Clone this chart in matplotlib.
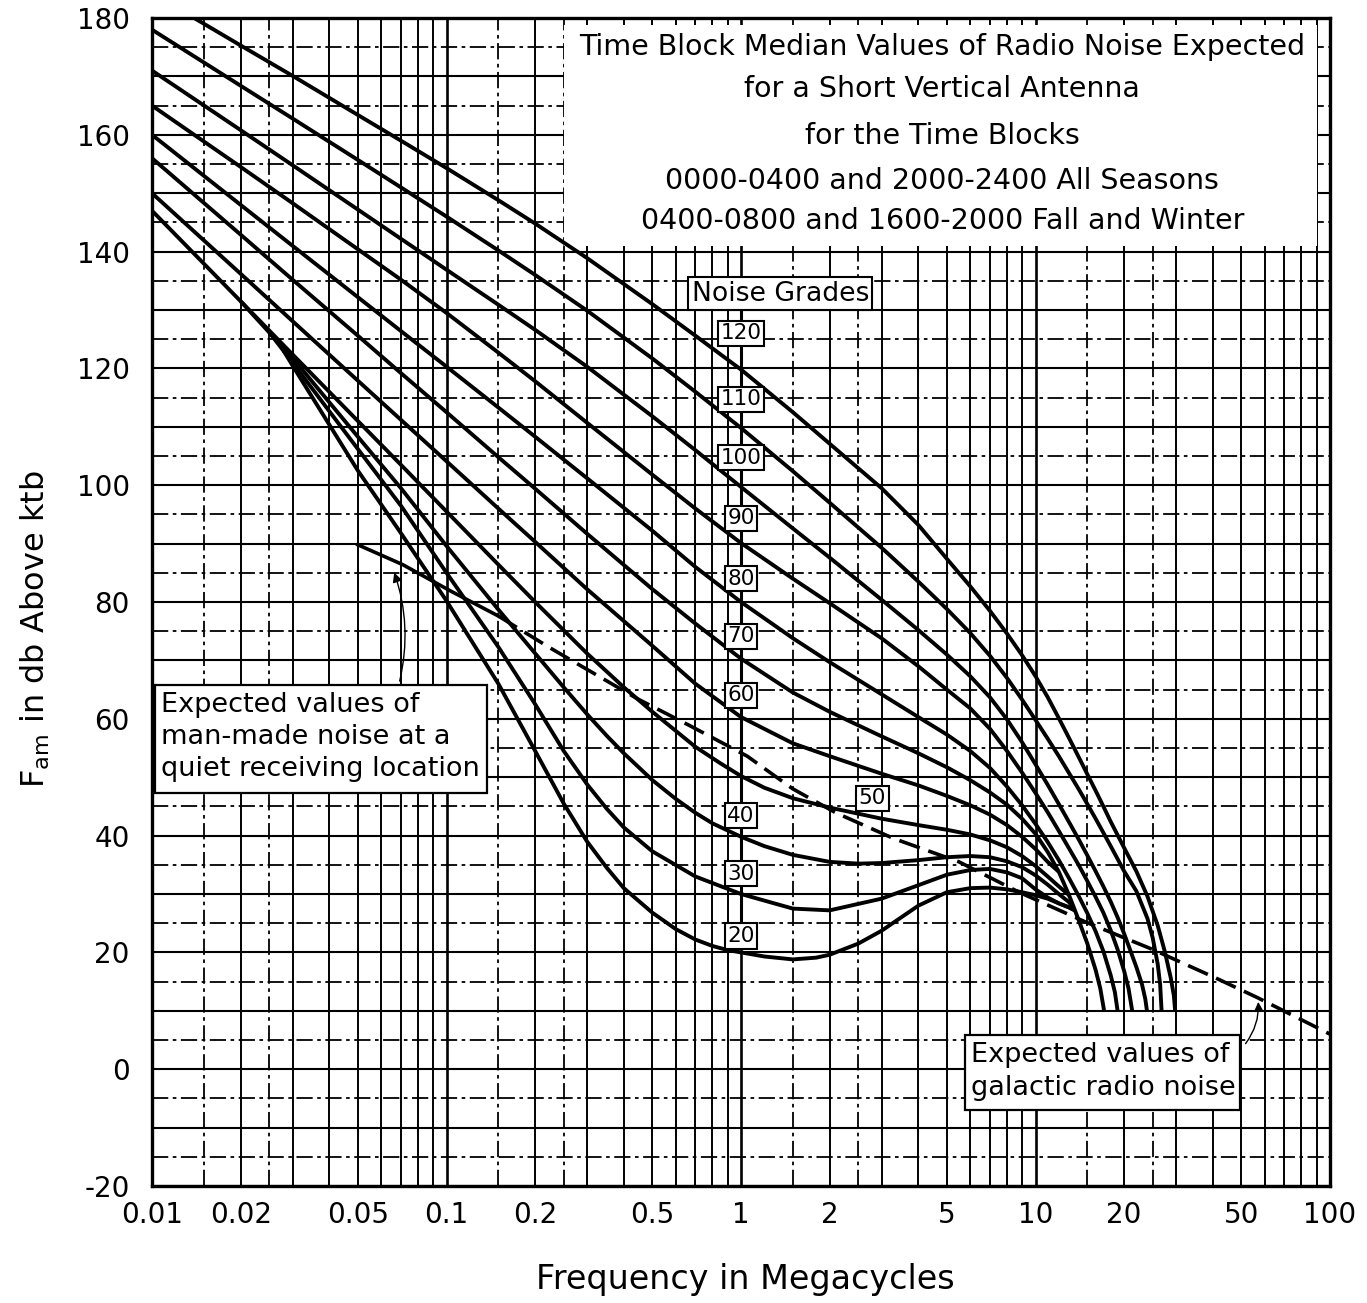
import matplotlib
matplotlib.use("Agg")
import matplotlib.pyplot as plt
from matplotlib.patches import Rectangle
from matplotlib.ticker import NullLocator

plt.rcParams['axes.unicode_minus'] = False

# noise grade curves: frequency (MHz) and Fam (dB)
g120_f = [0.0139, 0.02, 0.03, 0.05, 0.07, 0.1, 0.15, 0.2, 0.3, 0.5, 0.7, 1, 1.5, 2, 3, 4, 5, 6, 7, 8, 9, 10,
          11, 12, 13, 14, 15, 16, 17, 18, 20, 22, 24, 26, 27.5, 28.8, 29.5, 29.8]
g120_db = [180, 175.3, 170.1, 163.4, 159, 154.3, 148.8, 144.8, 138.9, 131, 125.6, 119.8, 112.5, 107.1, 99.5, 93.2,
           87.4, 82.7, 78.5, 74.6, 70.9, 67.3, 63.7, 60.1, 56.7, 53.5, 50.5, 47.7, 45.0, 42.4, 37.9, 33.9, 29.6,
           24.6, 20.1, 15.6, 12.6, 10]

g110_f = [0.01, 0.02, 0.03, 0.05, 0.07, 0.1, 0.15, 0.2, 0.3, 0.5, 0.7, 1, 1.5, 2, 3, 4, 5, 6, 7, 8, 9, 10,
          11, 12, 13, 14, 15, 16, 17, 18, 19, 20, 22, 24, 25, 26, 26.5, 26.8]
g110_db = [178, 168.4, 162.8, 155.7, 151, 146, 140.2, 136, 129.9, 121.7, 116, 109.8, 102.4, 97, 89.3, 83.5,
           78.8, 74.7, 70.8, 67, 63.3, 59.8, 56.6, 53.6, 50.7, 48, 45.4, 42.9, 40.5, 38.2, 36, 33.9, 30.5,
           25.8, 22.5, 18, 14.5, 10]

g100_f = [0.01, 0.02, 0.03, 0.05, 0.07, 0.1, 0.15, 0.2, 0.3, 0.5, 0.7, 1, 1.5, 2, 3, 4, 5, 6, 7, 8, 9, 10,
          11, 12, 13, 14, 15, 16, 17, 18, 19, 20, 21, 22, 23, 23.6, 23.9]
g100_db = [171, 160.8, 154.8, 147.2, 142.2, 136.9, 130.9, 126.6, 120.3, 111.8, 106, 99.7, 92.6, 87.6, 80.4,
           75.2, 71, 67.3, 63.7, 59.9, 56, 52.2, 48.7, 45.4, 42.3, 39.4, 36.6, 33.9, 31.3, 28.7, 26, 23.2,
           20.3, 17.5, 14.5, 12, 10]

g90_f = [0.01, 0.02, 0.03, 0.05, 0.07, 0.1, 0.15, 0.2, 0.3, 0.5, 0.7, 1, 1.5, 2, 3, 4, 5, 6, 7, 8, 9, 10,
         11, 12, 13, 14, 15, 16, 17, 18, 19, 20, 20.7, 21.3]
g90_db = [165, 154.5, 148.3, 140.4, 135.2, 129.5, 122.7, 117.8, 110.7, 101.8, 96, 90.1, 84, 79.8, 73.8, 69,
          65, 61.8, 58.3, 54.5, 50.8, 47.3, 44, 40.8, 37.8, 35, 32.2, 29.5, 26.8, 23.8, 20.5, 16.8, 13.8, 10]

g80_f = [0.01, 0.02, 0.03, 0.05, 0.07, 0.1, 0.15, 0.2, 0.3, 0.5, 0.7, 1, 1.5, 2, 3, 4, 5, 6, 7, 8, 9, 10,
         11, 12, 13, 14, 15, 16, 17, 18, 18.6, 19.0]
g80_db = [160, 148, 141, 132.2, 126.4, 120.3, 113.3, 108.3, 101.2, 92.2, 86, 80, 73.8, 69.7, 64.2, 60.3,
          57.3, 54.5, 51.6, 48.4, 45.2, 42, 38.9, 35.8, 32.7, 29.7, 26.7, 23.6, 20.2, 16.1, 13.2, 10]

g70_f = [0.01, 0.02, 0.03, 0.05, 0.07, 0.1, 0.15, 0.2, 0.3, 0.5, 0.7, 1, 1.5, 2, 3, 4, 5, 6, 7, 8, 9, 10,
         11, 12, 13, 14, 15, 16, 16.6, 17.1]
g70_db = [156, 142.9, 135.2, 125.6, 119.2, 112.5, 104.8, 99.4, 91.7, 82.2, 76.3, 70.3, 64.5, 61.2, 57, 54.1,
          51.7, 49.5, 47.4, 45.3, 42.9, 40.3, 37.2, 33.8, 29.8, 25.6, 21.5, 17, 13.8, 10]

g60_f = [0.01, 0.02, 0.03, 0.05, 0.07, 0.1, 0.15, 0.2, 0.3, 0.5, 0.7, 1, 1.5, 2, 3, 4, 5, 6, 7, 8, 9, 10,
         11, 12]
g60_db = [150, 136.2, 128.1, 117.9, 111.2, 104.1, 96, 90.3, 82.2, 72.5, 66, 60.3, 55.8, 53.6, 50.6, 48.6,
          46.8, 45.2, 43.6, 41.8, 39.8, 37.7, 35.5, 33.8]

g50_f = [0.01, 0.02, 0.03, 0.05, 0.07, 0.1, 0.15, 0.2, 0.3, 0.4, 0.5, 0.7, 0.85, 1, 1.2, 1.5, 2, 3, 4, 5,
         6, 7, 8, 9, 10, 11, 12, 13]
g50_db = [147, 131.5, 122.4, 111, 103.5, 95.5, 86.4, 80, 71.2, 65.4, 61.2, 55.2, 52.4, 50.2, 48.2, 46.4,
          44.8, 42.9, 41.8, 41, 40.2, 39.2, 38, 36.5, 34.8, 33, 31.3, 29.8]

g40_f = [0.02, 0.03, 0.05, 0.07, 0.1, 0.15, 0.2, 0.25, 0.3, 0.35, 0.4, 0.5, 0.6, 0.7, 0.8, 1, 1.2, 1.5, 2,
         2.5, 3, 4, 5, 6, 7, 8, 9, 10, 11, 12, 13, 13.6]
g40_db = [131.5, 121.8, 108.3, 99.5, 89.6, 78.7, 71.2, 65.4, 60.8, 57.1, 54.1, 49.5, 46.3, 43.9, 42.1, 39.8,
          38.2, 36.7, 35.5, 35.2, 35.3, 35.8, 36.3, 36.5, 36.3, 35.6, 34.6, 33.2, 31.6, 30, 28.6, 27.2]

g30_f = [0.025, 0.03, 0.05, 0.07, 0.1, 0.15, 0.2, 0.25, 0.3, 0.35, 0.4, 0.5, 0.7, 1, 1.5, 2, 2.5, 3, 4, 5,
         6, 7, 8, 9, 10, 11, 12, 13, 13.6]
g30_db = [126.2, 121, 106.2, 96.5, 85, 72.3, 62.5, 54.5, 48.8, 44.6, 41.4, 37.3, 33, 30, 27.5, 27.2, 28.3,
          29.2, 31.5, 33.3, 34.1, 34.3, 33.7, 32.7, 30.8, 29.4, 28.4, 27.7, 27.2]

g20_f = [0.028, 0.03, 0.05, 0.07, 0.1, 0.15, 0.2, 0.25, 0.3, 0.35, 0.4, 0.5, 0.6, 0.7, 0.8, 0.9, 1, 1.2,
         1.5, 1.8, 2, 2.5, 3, 3.5, 4, 5, 6, 7, 8, 9, 10, 11, 12, 13, 13.6]
g20_db = [123, 120.5, 102.5, 91.8, 80.2, 66, 54.5, 45.5, 39, 34.5, 31, 26.8, 24, 22.2, 21.1, 20.4, 20, 19.3,
          18.8, 19.1, 19.6, 21.5, 23.7, 26, 28, 30.3, 31, 31.1, 30.8, 30.3, 29.8, 29.2, 28.4, 27.7, 27.2]

# man-made noise (quiet location) and galactic noise
manmade_f = [0.05, 0.071, 0.104, 0.15, 0.222, 0.446, 0.66, 1.05, 1.5, 2.1, 3.3, 5.5, 8.8]
manmade_db = [89.8, 86.4, 81.8, 77.6, 72.3, 63.4, 59, 53.6, 48, 43.9, 39.5, 35.5, 30.3]
galactic_f = [8.8, 14.8, 25, 41, 57, 100]
galactic_db = [30.3, 25.2, 20.5, 15.6, 12.2, 6]

# grade labels on the 1 Mc scale
grades = [120, 110, 100, 90, 80, 70, 60, 40, 30, 20]
grade_label_db = [126, 114.7, 104.7, 94.3, 84, 74.1, 64, 43.4, 33.5, 22.8]

xtick_vals = [0.01, 0.02, 0.05, 0.1, 0.2, 0.5, 1, 2, 5, 10, 20, 50, 100]
xtick_text = ['0.01', '0.02', '0.05', '0.1', '0.2', '0.5', '1', '2', '5', '10', '20', '50', '100']

title_lines = [
    'Time Block Median Values of Radio Noise Expected',
    'for a Short Vertical Antenna',
    'for the Time Blocks',
    '0000-0400 and 2000-2400 All Seasons',
    '0400-0800 and 1600-2000 Fall and Winter',
]

curves = [(g120_f, g120_db), (g110_f, g110_db), (g100_f, g100_db), (g90_f, g90_db),
          (g80_f, g80_db), (g70_f, g70_db), (g60_f, g60_db), (g50_f, g50_db),
          (g40_f, g40_db), (g30_f, g30_db), (g20_f, g20_db)]

W, H = 1367, 1303
fig = plt.figure(figsize=(W / 100, H / 100), dpi=100)
fig.patch.set_facecolor('white')
ax = fig.add_axes([152 / W, 1 - 1186 / H, (1330 - 152) / W, (1186 - 18) / H])
ax.set_xscale('log')
ax.set_xlim(0.01, 100)
ax.set_ylim(-20, 180)

dashdot = (0, (9, 2.5, 2, 2.5))

# graph paper grid
for dec in [0.01, 0.1, 1, 10]:
    for m in [1, 1.5, 2, 2.5, 3, 4, 5, 6, 7, 8, 9]:
        x = m * dec
        if m in (1.5, 2.5):
            ax.axvline(x, color='k', lw=1.3, ls=dashdot, zorder=1)
        else:
            ax.axvline(x, color='k', lw=1.9 if m == 1 else 1.4, zorder=1)
for y in range(-20, 181, 5):
    if y % 10 == 0:
        ax.axhline(y, color='k', lw=1.5, zorder=1)
    else:
        ax.axhline(y, color='k', lw=1.3, ls=dashdot, zorder=1)

# white panel behind the title
ax.add_patch(Rectangle((0.25, 141), 90 - 0.25, 37.8, fc='white', ec='none', zorder=3))
title_y = [175, 167.9, 159.8, 152.1, 145.2]
for line, ty in zip(title_lines, title_y):
    ax.text(4.83, ty, line, ha='center', va='center', fontsize=20.5, zorder=6)

for f, db in curves:
    ax.plot(f, db, color='k', lw=2.8, solid_joinstyle='round', solid_capstyle='butt', zorder=4)

ax.plot(manmade_f[:4], manmade_db[:4], color='k', lw=2.6, zorder=4)
ax.plot(manmade_f[3:], manmade_db[3:], color='k', lw=2.6, ls=(0, (6, 2.5)), zorder=4)
ax.plot(galactic_f, galactic_db, color='k', lw=2.6, ls=(0, (6, 2.5)), zorder=4)

# noise grade scale
ax.plot([1.0, 1.0], [131, 21.5], color='k', lw=2.2, zorder=4.5)
box = dict(boxstyle='square,pad=0.12', fc='white', ec='black', lw=1.5)
ax.text(1.36, 132.8, 'Noise Grades', ha='center', va='center', fontsize=19.2, bbox=box, zorder=6)
for g, gy in zip(grades, grade_label_db):
    ax.text(1.0, gy, str(g), ha='center', va='center', fontsize=15.5, bbox=box, zorder=6)
ax.text(2.79, 46.4, '50', ha='center', va='center', fontsize=15.5, bbox=box, zorder=6)


# annotation boxes
def px_box(x0, y0, x1, y1):
    r = Rectangle((x0 / W, 1 - y1 / H), (x1 - x0) / W, (y1 - y0) / H, transform=fig.transFigure,
                  fc='white', ec='black', lw=1.6, zorder=5)
    fig.add_artist(r)


px_box(155, 685, 487, 793)
fig.text(161 / W, 1 - 692 / H, 'Expected values of\nman-made noise at a\nquiet receiving location',
         ha='left', va='top', fontsize=19.5, linespacing=1.3, zorder=6)
px_box(965, 1035, 1240, 1110)
fig.text(971 / W, 1 - 1042 / H, 'Expected values of\ngalactic radio noise',
         ha='left', va='top', fontsize=19.5, linespacing=1.35, zorder=6)

ax.annotate('', xy=(0.066, 85.5), xytext=(0.069, 66),
            arrowprops=dict(arrowstyle='-|>', lw=1.0, color='k', mutation_scale=14,
                            connectionstyle='arc3,rad=0.15'), zorder=6)
ax.annotate('', xy=(57, 12), xytext=(51, 4),
            arrowprops=dict(arrowstyle='-|>', lw=1.0, color='k', mutation_scale=14,
                            connectionstyle='arc3,rad=0.2'), zorder=6)

ax.set_xticks(xtick_vals)
ax.set_xticklabels(xtick_text)
ax.xaxis.set_minor_locator(NullLocator())
ax.set_yticks(range(-20, 181, 20))
ax.tick_params(length=0, labelsize=20)
ax.tick_params(axis='x', pad=11)
ax.tick_params(axis='y', pad=16)
for sp in ax.spines.values():
    sp.set_linewidth(2.4)
    sp.set_zorder(7)

fig.text(745 / W, 1 - 1280 / H, 'Frequency in Megacycles', ha='center', va='center', fontsize=24)
fig.text(35 / W, 1 - 629 / H, r'F$_{\mathrm{am}}$ in db Above ktb', rotation=90,
         ha='center', va='center', fontsize=23)

fig.savefig('out.png', dpi=100, facecolor='white')
